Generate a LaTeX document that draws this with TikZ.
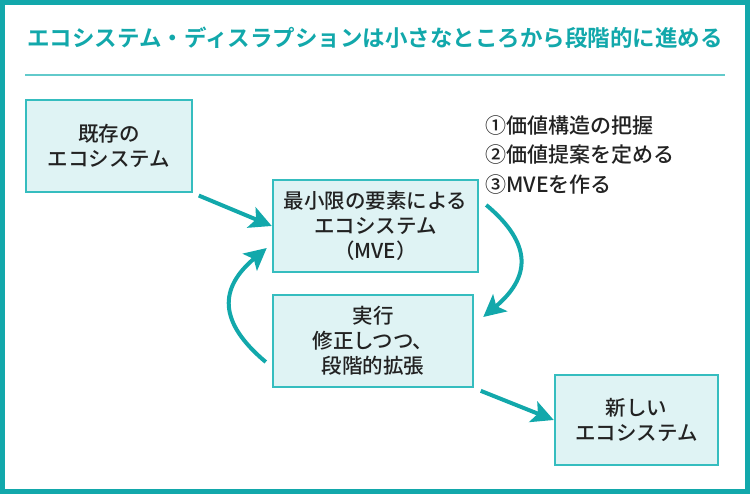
\documentclass[tikz,border=0pt]{standalone}
\usepackage{fontspec}
\newfontfamily\jp[BoldFont={Noto Sans CJK JP Bold}]{Noto Sans CJK JP Medium}
\usetikzlibrary{arrows.meta}
\definecolor{frameteal}{HTML}{12A8AB}
\definecolor{ruleteal}{HTML}{62CACB}
\definecolor{boxline}{HTML}{35BDBF}
\definecolor{boxfill}{HTML}{DFF3F4}
\definecolor{ink}{HTML}{222222}

\begin{document}
\begin{tikzpicture}[x=1pt,y=1pt,
  box/.style={draw=boxline,fill=boxfill,line width=2.5pt,minimum height=92pt,
    inner sep=0pt,align=center,text=ink,font=\jp\fontsize{20.5}{25}\selectfont},
  flow/.style={draw=frameteal,line width=4pt,-{Stealth[length=22pt,width=22pt,inset=5pt]}}]
    \useasboundingbox (0,0) rectangle (750,494);
    \draw[frameteal,line width=5pt] (2.5,2.5) rectangle (747.5,491.5);
    \node[text=frameteal,font=\jp\bfseries\fontsize{22.5}{27}\selectfont] (title) at (375,456)
        {エコシステム・ディスラプションは小さなところから段階的に進める};
    \draw[ruleteal,line width=2pt] (25,419) -- (725,419);

    \node[box,minimum width=166pt] (old) at (109,348) {既存の\\エコシステム};
    \node[box,minimum width=205pt] (mve) at (375.5,268) {最小限の要素による\\エコシステム\\（MVE）};
    \node[box,minimum width=200pt] (act) at (373,153) {実行\\修正しつつ、\\段階的拡張};
    \node[box,minimum width=163pt,minimum height=90pt] (new) at (636.5,74) {新しい\\エコシステム};
    \node[anchor=north west,align=left,inner sep=0pt,text=ink,
        font=\jp\fontsize{21}{30}\selectfont] (steps) at (485,379)
        {①価値構造の把握\\②価値提案を定める\\③MVEを作る};

    \draw[flow,shorten <=6pt] (old.south east) -- (mve.west);
    \draw[flow] ([shift={(7,21)}]mve.east) to[out=-40,in=40,looseness=1.4] ([shift={(9,24)}]act.east);
    \draw[flow] ([shift={(-6,-21)}]act.west) to[out=140,in=-140,looseness=1.4] ([shift={(-5,-22)}]mve.west);
    \draw[flow,shorten <=7pt] (act.south east) -- (new.west);
\end{tikzpicture}
\end{document}
